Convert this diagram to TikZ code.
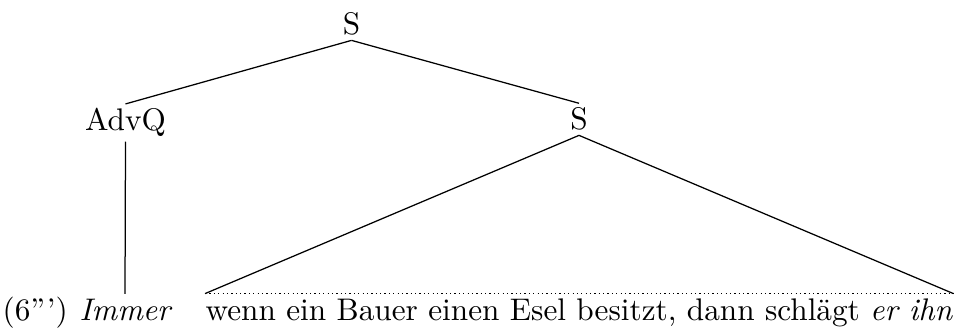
\documentclass[tikz,border=0pt]{standalone}
\begin{document}
\begin{tikzpicture}[x=0.32pt, y=-0.32pt,
    cat/.style={anchor=base, inner sep=1.3pt},
    leaf/.style={anchor=base, inner xsep=0pt, inner ysep=1.3pt}]
          \def\base{320}
          \useasboundingbox (0,0) rectangle (958,336);
          \node[cat] (s) at (351.5,35) {S};
          \node[cat] (advq) at (125.5,131) {AdvQ};
          \node[cat] (s2) at (579,130) {S};
          \node[leaf, anchor=base west] (ex) at (2,\base) {(6''')};
          \node[leaf] (immer) at (125,\base) {\itshape Immer};
          \node[leaf, anchor=base west] (sent) at (205,\base)
          {wenn ein Bauer einen Esel besitzt, dann schlägt \emph{er ihn}};
          \draw (s.south) -- (advq.north);
          \draw (s.south) -- (s2.north);
          \draw (advq.south) -- (immer.north);
          % triangle over the clause
          \draw (sent.north west) -- (s2.south) -- (sent.north east);
          \draw[densely dotted] (sent.north west) -- (sent.north east);
        \end{tikzpicture}
\end{document}
